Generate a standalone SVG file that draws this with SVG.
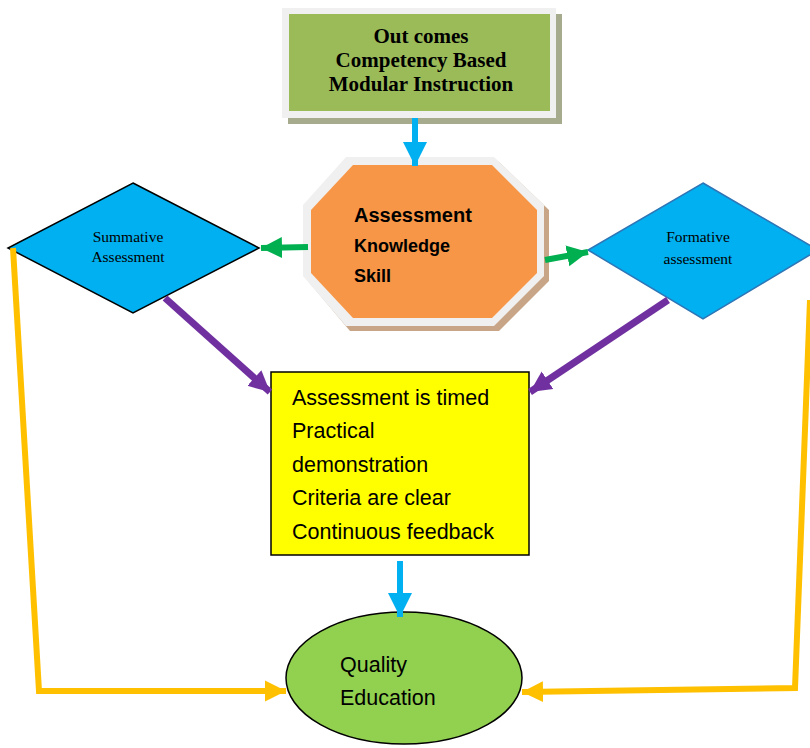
<svg xmlns="http://www.w3.org/2000/svg" width="810" height="748" viewBox="0 0 810 748">
<defs>
<style>
.serif{font-family:"Liberation Serif","Times New Roman",serif;fill:#000}
.sans{font-family:"Liberation Sans",Arial,sans-serif;fill:#000}
.blue{stroke:#00b0f0;stroke-width:6;fill:none}
.green{stroke:#00b050;stroke-width:6;fill:none}
.purple{stroke:#7030a0;stroke-width:7;fill:none}
.yellow{stroke:#ffc000;stroke-width:6;fill:none}
</style>
<marker id="mBlue" viewBox="0 0 10 10" refX="10" refY="5" markerWidth="4" markerHeight="4.5" markerUnits="strokeWidth" orient="auto"><path d="M0,0 L10,5 L0,10 z" fill="#00b0f0"/></marker>
<marker id="mGreen" viewBox="0 0 10 10" refX="10" refY="5" markerWidth="3.5" markerHeight="4" markerUnits="strokeWidth" orient="auto"><path d="M0,0 L10,5 L0,10 z" fill="#00b050"/></marker>
<marker id="mPurple" viewBox="0 0 10 10" refX="10" refY="5" markerWidth="3" markerHeight="3.5" markerUnits="strokeWidth" orient="auto"><path d="M0,0 L10,5 L0,10 z" fill="#7030a0"/></marker>
<marker id="mYellow" viewBox="0 0 10 10" refX="10" refY="5" markerWidth="3.5" markerHeight="4" markerUnits="strokeWidth" orient="auto"><path d="M0,0 L10,5 L0,10 z" fill="#ffc000"/></marker>
</defs>
<rect width="810" height="748" fill="#fff"/>

<g id="outcomes">
<rect x="288" y="14" width="274" height="110" fill="#a5ab8c"/>
<rect x="282" y="8" width="274" height="110" fill="#f0f0f0"/>
<rect x="289" y="14" width="261" height="97" fill="#9bbb59"/>
<text class="serif" font-size="21" font-weight="bold" text-anchor="middle"><tspan x="421" y="43">Out comes</tspan><tspan x="421" y="67">Competency Based</tspan><tspan x="421" y="91">Modular Instruction</tspan></text>
</g>

<g id="assessment">
<polygon points="350,162 499,162 549,210 549,281 499,331 350,331 308,281 308,210" fill="#c9a587"/>
<polygon points="346,157 494,157 544,205 544,276 494,326 346,326 303,276 303,205" fill="#f0f0f0"/>
<polygon points="353,165 492,165 537,210 537,273 492,318 353,318 311,273 311,210" fill="#f79646"/>
<text class="sans" font-weight="bold"><tspan x="354" y="222" font-size="20">Assessment</tspan><tspan x="354" y="252" font-size="18">Knowledge</tspan><tspan x="354" y="282" font-size="18">Skill</tspan></text>
</g>

<g id="summative">
<polygon points="133,183 259,248 133,313 8,248" fill="#00b0f0" stroke="#000" stroke-width="1.5"/>
<text class="serif" font-size="15.5" text-anchor="middle"><tspan x="128" y="242">Summative</tspan><tspan x="128" y="262">Assessment</tspan></text>
</g>

<g id="formative">
<polygon points="703,183 818,250 703,319 588,250" fill="#00b0f0" stroke="#2e75b6" stroke-width="1.5"/>
<text class="serif" font-size="15.5" text-anchor="middle"><tspan x="698" y="242">Formative</tspan><tspan x="698" y="264">assessment</tspan></text>
</g>

<g id="criteria">
<rect x="271" y="372" width="258" height="183" fill="#ffff00" stroke="#000" stroke-width="1.5"/>
<text class="sans" font-size="21.5"><tspan x="292" y="405">Assessment is timed</tspan><tspan x="292" y="438">Practical</tspan><tspan x="292" y="472">demonstration</tspan><tspan x="292" y="505">Criteria are clear</tspan><tspan x="292" y="539">Continuous feedback</tspan></text>
</g>

<g id="quality">
<ellipse cx="404" cy="678" rx="118" ry="66" fill="#92d050" stroke="#000" stroke-width="1.5"/>
<text class="sans" font-size="21.5"><tspan x="340" y="672">Quality</tspan><tspan x="340" y="705">Education</tspan></text>
</g>

<g id="connectors">
<line class="blue" x1="415" y1="118" x2="415" y2="166" marker-end="url(#mBlue)"/>
<line class="green" x1="308" y1="247" x2="261" y2="248" marker-end="url(#mGreen)"/>
<line class="green" x1="545" y1="260" x2="588" y2="252" marker-end="url(#mGreen)"/>
<line class="purple" x1="165" y1="298" x2="270" y2="392" marker-end="url(#mPurple)"/>
<line class="purple" x1="668" y1="300" x2="530" y2="392" marker-end="url(#mPurple)"/>
<line class="blue" x1="400" y1="561" x2="400" y2="617" marker-end="url(#mBlue)"/>
<polyline class="yellow" points="13,248 39,691 286,691" marker-end="url(#mYellow)"/>
<polyline class="yellow" points="810,300 795,688 522,692" marker-end="url(#mYellow)"/>
</g>
</svg>
